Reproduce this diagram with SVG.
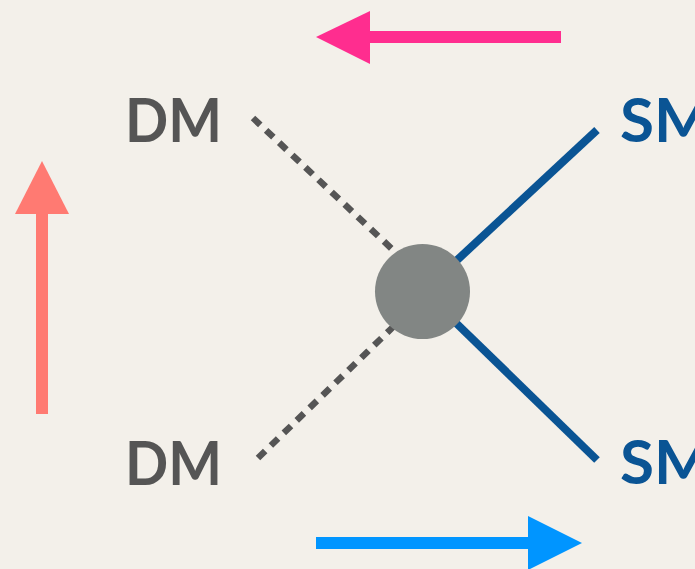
<svg xmlns="http://www.w3.org/2000/svg" width="695" height="569" viewBox="0 0 695 569">
<style>
.dm{font-family:Lato,"Liberation Sans",sans-serif;font-size:62px;font-weight:bold;fill:#555555;}
.sm{font-family:Lato,"Liberation Sans",sans-serif;font-size:62px;font-weight:bold;fill:#0a5494;}
.dot{stroke:#555555;stroke-width:6.5;stroke-dasharray:10 8;fill:none;}
.solid{stroke:#0a5494;stroke-width:8;fill:none;}
</style>
<rect width="695" height="569" fill="#f3f0ea"/>
<g id="connectors">
<line class="dot" x1="253" y1="118" x2="393" y2="250"/>
<line class="dot" x1="258" y1="458" x2="393" y2="327"/>
<line class="solid" x1="597" y1="130" x2="455" y2="262"/>
<line class="solid" x1="597" y1="460" x2="455" y2="322"/>
</g>
<g id="arrow-top">
<rect x="368" y="31" width="193" height="12" fill="#ff2d8f"/>
<polygon points="316,37 370,11 370,64" fill="#ff2d8f"/>
</g>
<g id="arrow-left">
<rect x="36" y="212" width="12" height="202" fill="#ff7a72"/>
<polygon points="42,161 15,214 69,214" fill="#ff7a72"/>
</g>
<g id="arrow-bottom">
<rect x="316" y="537" width="214" height="12" fill="#0095ff"/>
<polygon points="582,543 528,516 528,570" fill="#0095ff"/>
</g>
<g id="vertex"><circle cx="422.5" cy="291.5" r="47.5" fill="#828684"/></g>
<g id="dm-top"><text class="dm" x="125" y="142" textLength="97" lengthAdjust="spacingAndGlyphs">DM</text></g>
<g id="dm-bottom"><text class="dm" x="125" y="485" textLength="97" lengthAdjust="spacingAndGlyphs">DM</text></g>
<g id="sm-top"><text class="sm" x="620" y="142">SM</text></g>
<g id="sm-bottom"><text class="sm" x="620" y="484">SM</text></g>
</svg>
